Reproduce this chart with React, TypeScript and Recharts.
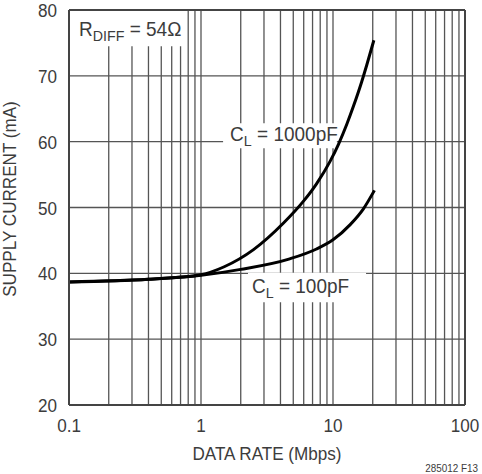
import {
  CartesianGrid,
  Label,
  Line,
  LineChart,
  ReferenceArea,
  ReferenceLine,
  XAxis,
  YAxis,
} from "recharts";

// supply current vs data rate, two load capacitances
const rates1000 = [0.1, 0.4, 1, 1.5, 2.5, 4.2, 6, 7.5, 9.5, 11, 12.7, 14.3, 16.5, 18, 20.4];
const current1000 = [38.7, 39.1, 39.8, 41.0, 43.6, 47.6, 51.0, 53.6, 57.0, 59.6, 62.6, 65.4, 69.1, 71.6, 75.4];

const rates100 = [0.1, 0.4, 1, 2, 4.7, 7.5, 10, 13.5, 17, 20.6];
const current100 = [38.7, 39.1, 39.7, 40.6, 42.2, 43.7, 45.1, 47.4, 49.8, 52.6];

const majorRates = [0.1, 1, 10, 100];
const majorLabels = ["0.1", "1", "10", "100"];
const gridRates = [
  0.1, 0.2, 0.3, 0.4, 0.5, 0.6, 0.7, 0.8, 0.9,
  1, 2, 3, 4, 5, 6, 7, 8, 9,
  10, 20, 30, 40, 50, 60, 70, 80, 90,
  100,
];
const currentTicks = [20, 30, 40, 50, 60, 70, 80];

const data1000 = rates1000.map((rate, i) => ({ rate, current: current1000[i] }));
const data100 = rates100.map((rate, i) => ({ rate, current: current100[i] }));

const FONT = "'Liberation Sans', Arial, sans-serif";
const TEXT = "#3c3c3c";
const GRID = "#555";
const NARROW = 0.9;

function rateLabel(v: number) {
  const i = majorRates.findIndex((m) => Math.abs(Math.log10(m) - Math.log10(v)) < 1e-6);
  return i >= 0 ? majorLabels[i] : "";
}

// condensed text: Liberation Sans squeezed horizontally around its anchor point
function Narrow({ x, y, anchor = "start", size = 19, scale = NARROW, rotate = 0, children }: any) {
  return (
    <text
      transform={`translate(${x},${y}) rotate(${rotate}) scale(${scale},1)`}
      textAnchor={anchor}
      fill={TEXT}
      fontFamily={FONT}
      fontSize={size}
    >
      {children}
    </text>
  );
}

function RateTick({ x, y, payload }: any) {
  const text = rateLabel(payload.value);
  if (!text) return null;
  return (
    <Narrow x={x} y={y + 14} anchor="middle">
      {text}
    </Narrow>
  );
}

function CurrentTick({ x, y, payload }: any) {
  return (
    <Narrow x={x} y={y + 7} anchor="end">
      {payload.value}
    </Narrow>
  );
}

function BoxLabel(props: any) {
  const { viewBox, main, sub, rest, padX, baseY } = props;
  if (!viewBox) return null;
  return (
    <Narrow x={viewBox.x + padX} y={viewBox.y + baseY} size={20} scale={0.95}>
      {main}
      <tspan fontSize={15} dy={5}>
        {sub}
      </tspan>
      <tspan dy={-5}>{rest}</tspan>
    </Narrow>
  );
}

export default function App() {
  return (
    <div style={{ position: "absolute", left: 0, top: 0, background: "#fff" }}>
      <LineChart
        width={482}
        height={474}
        margin={{ top: 10, right: 17, left: 0, bottom: 0 }}
      >
        <CartesianGrid stroke={GRID} strokeWidth={1.3} />
        <XAxis
          dataKey="rate"
          type="number"
          scale="log"
          domain={[0.1, 100]}
          ticks={gridRates}
          allowDataOverflow
          interval={0}
          height={69}
          tickLine={false}
          axisLine={{ stroke: "#444", strokeWidth: 2 }}
          tickMargin={7}
          tick={<RateTick />}
        >
          <Label
            content={({ viewBox }: any) => (
              <g>
                <Narrow x={viewBox.x + viewBox.width / 2} y={460} anchor="middle">
                  DATA RATE (Mbps)
                </Narrow>
                <Narrow x={478} y={472} anchor="end" size={11}>
                  285012 F13
                </Narrow>
              </g>
            )}
          />
        </XAxis>
        <YAxis
          type="number"
          domain={[20, 80]}
          ticks={currentTicks}
          interval={0}
          width={69}
          tickLine={false}
          axisLine={{ stroke: "#444", strokeWidth: 2 }}
          tickMargin={6}
          tick={<CurrentTick />}
        >
          <Label
            content={() => (
              <Narrow x={16} y={199} anchor="middle" rotate={-90}>
                SUPPLY CURRENT (mA)
              </Narrow>
            )}
          />
        </YAxis>

        {/* white boxes behind the annotations break the grid lines */}
        <ReferenceArea
          x1={0.1}
          x2={0.77}
          y1={74.5}
          y2={80}
          fill="#fff"
          fillOpacity={1}
          stroke="none"
          label={<BoxLabel main="R" sub="DIFF" rest=" = 54Ω" padX={10} baseY={26} />}
        />
        <ReferenceArea
          x1={1.47}
          x2={10.7}
          y1={59.0}
          y2={62.8}
          fill="#fff"
          fillOpacity={1}
          stroke="none"
          label={<BoxLabel main="C" sub="L" rest=" = 1000pF" padX={7} baseY={18} />}
        />
        <ReferenceArea
          x1={2.27}
          x2={17.8}
          y1={35.6}
          y2={40.1}
          fill="#fff"
          fillOpacity={1}
          stroke="none"
          label={<BoxLabel main="C" sub="L" rest=" = 100pF" padX={4} baseY={20} />}
        />

        <ReferenceLine y={80} stroke="#444" strokeWidth={2} />
        <ReferenceLine x={100} stroke="#444" strokeWidth={2} />

        <Line
          data={data1000}
          dataKey="current"
          type="monotone"
          stroke="#000"
          strokeWidth={3}
          dot={false}
          isAnimationActive={false}
        />
        <Line
          data={data100}
          dataKey="current"
          type="monotone"
          stroke="#000"
          strokeWidth={3}
          dot={false}
          isAnimationActive={false}
        />
      </LineChart>
    </div>
  );
}
